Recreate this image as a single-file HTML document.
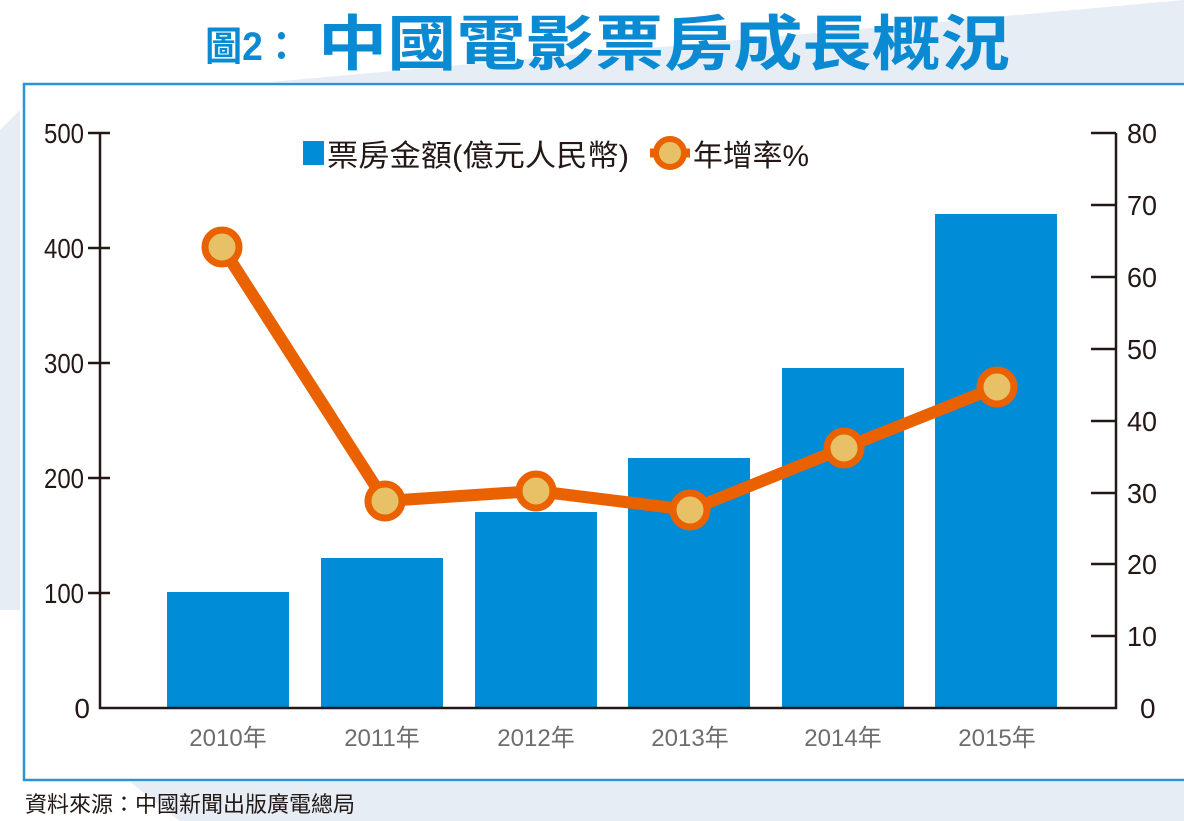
<!DOCTYPE html>
<html><head><meta charset="utf-8"><style>
body{margin:0;width:1184px;height:821px;overflow:hidden;background:#fff}
svg{display:block}
text{font-family:"Liberation Sans","Noto Sans CJK TC",sans-serif}
</style></head><body>
<svg width="1184" height="821" viewBox="0 0 1184 821">
<rect width="1184" height="821" fill="#fff"/>
<polygon points="270,82 1184,0 1184,82" fill="#e6edf5"/>
<polygon points="0,130 20,110 20,610 0,610" fill="#e6edf5"/>
<polygon points="130,782 1184,782 1184,821 180,821" fill="#e6edf5"/>
<text x="205" y="60" font-size="40" font-weight="bold" fill="#0a8ad2" textLength="95" lengthAdjust="spacingAndGlyphs">圖2：</text>
<text x="318" y="65" font-size="60" font-weight="bold" fill="#0a8ad2" textLength="692" lengthAdjust="spacingAndGlyphs">中國電影票房成長概況</text>
<rect x="24" y="84" width="1170" height="696" fill="#fff" stroke="#2a94d6" stroke-width="2.5"/>
<g fill="#008cd6">
<rect x="167" y="592" width="122" height="116"/>
<rect x="321" y="558" width="122" height="150"/>
<rect x="475" y="512" width="122" height="196"/>
<rect x="628" y="458" width="122" height="250"/>
<rect x="782" y="368" width="122" height="340"/>
<rect x="935" y="214" width="122" height="494"/>
</g>
<g stroke="#231815" stroke-width="2.5" fill="none">
<path d="M100,133V708H1116V133"/>
<path d="M88,133H110M88,248H110M88,363H110M88,478H110M88,593H110"/>
<path d="M1091,133H1116M1091,205H1116M1091,277H1116M1091,349H1116M1091,421H1116M1091,493H1116M1091,564H1116M1091,636H1116"/>
</g>
<g font-size="28" fill="#231815" text-anchor="end">
<text x="84" y="143" textLength="40" lengthAdjust="spacingAndGlyphs">500</text>
<text x="84" y="258" textLength="40" lengthAdjust="spacingAndGlyphs">400</text>
<text x="84" y="373" textLength="40" lengthAdjust="spacingAndGlyphs">300</text>
<text x="84" y="488" textLength="40" lengthAdjust="spacingAndGlyphs">200</text>
<text x="84" y="603" textLength="40" lengthAdjust="spacingAndGlyphs">100</text>
<text x="90" y="718">0</text>
</g>
<g font-size="28" fill="#231815">
<text x="1127" y="143" textLength="30" lengthAdjust="spacingAndGlyphs">80</text>
<text x="1127" y="215" textLength="30" lengthAdjust="spacingAndGlyphs">70</text>
<text x="1127" y="287" textLength="30" lengthAdjust="spacingAndGlyphs">60</text>
<text x="1127" y="359" textLength="30" lengthAdjust="spacingAndGlyphs">50</text>
<text x="1127" y="431" textLength="30" lengthAdjust="spacingAndGlyphs">40</text>
<text x="1127" y="503" textLength="30" lengthAdjust="spacingAndGlyphs">30</text>
<text x="1127" y="574" textLength="30" lengthAdjust="spacingAndGlyphs">20</text>
<text x="1127" y="646" textLength="30" lengthAdjust="spacingAndGlyphs">10</text>
<text x="1140" y="718">0</text>
</g>
<g font-size="24" fill="#6d6d6d" text-anchor="middle">
<text x="228" y="746">2010年</text>
<text x="382" y="746">2011年</text>
<text x="536" y="746">2012年</text>
<text x="690" y="746">2013年</text>
<text x="843" y="746">2014年</text>
<text x="997" y="746">2015年</text>
</g>
<polyline points="222,247 385,501 536,491 690,510 844,448 997,387" fill="none" stroke="#ea6100" stroke-width="12" stroke-linejoin="round"/>
<g fill="#e8c066" stroke="#ea6100" stroke-width="7">
<circle cx="222" cy="247" r="17"/><circle cx="385" cy="501" r="17"/><circle cx="536" cy="491" r="17"/>
<circle cx="690" cy="510" r="17"/><circle cx="844" cy="448" r="17"/><circle cx="997" cy="387" r="17"/>
</g>
<rect x="303" y="141" width="21" height="24" fill="#008cd6"/>
<text x="327" y="166" font-size="30" fill="#231815" textLength="302" lengthAdjust="spacingAndGlyphs">票房金額(億元人民幣)</text>
<line x1="650" y1="153" x2="690" y2="153" stroke="#ea6100" stroke-width="9"/>
<circle cx="670" cy="153" r="14" fill="#e8c066" stroke="#ea6100" stroke-width="6"/>
<text x="693" y="166" font-size="30" fill="#231815" textLength="116" lengthAdjust="spacingAndGlyphs">年增率%</text>
<text x="25" y="812" font-size="22" fill="#231815" textLength="330" lengthAdjust="spacingAndGlyphs">資料來源：中國新聞出版廣電總局</text>
</svg>
</body></html>
